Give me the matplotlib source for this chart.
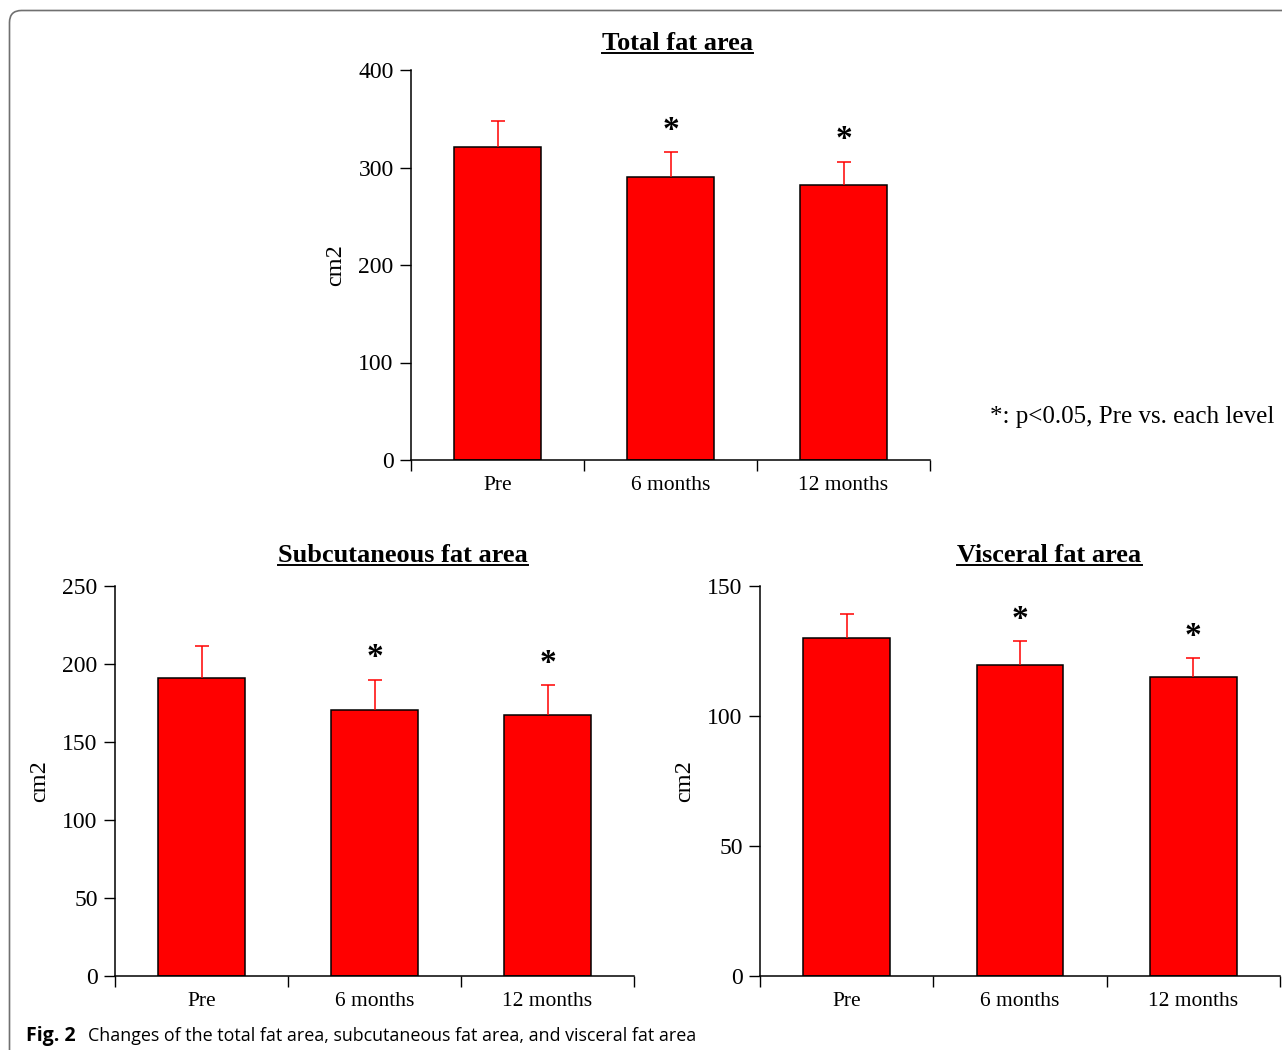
import numpy as np
import matplotlib
matplotlib.use("Agg")
import matplotlib.pyplot as plt
from matplotlib.patches import FancyBboxPatch
from matplotlib.lines import Line2D
from matplotlib.transforms import IdentityTransform

# ---- data ----
categories = ["Pre", "6 months", "12 months"]
significant = [False, True, True]

total_mean = [321, 290, 282]
total_err = [27, 26, 24]

subcut_mean = [191, 170.5, 167]
subcut_err = [20.5, 19.5, 19.5]

visceral_mean = [130, 119.5, 115]
visceral_err = [9.2, 9.4, 7.4]

total_ticks = [0, 100, 200, 300, 400]
subcut_ticks = [0, 50, 100, 150, 200, 250]
visceral_ticks = [0, 50, 100, 150]

titles = ["Total fat area", "Subcutaneous fat area", "Visceral fat area"]
ylabel = "cm2"
note = "*: p<0.05, Pre vs. each level"
caption_bold = "Fig. 2"
caption_text = "Changes of the total fat area, subcutaneous fat area, and visceral fat area"

W, H = 1282, 1050
DPI = 100
SERIF = ["Liberation Serif", "DejaVu Serif"]
SANS = ["Open Sans", "DejaVu Sans"]

fig = plt.figure(figsize=(W / DPI, H / DPI), dpi=DPI)
fig.patch.set_facecolor("white")


def px_rect(x0, y0, x1, y1):
    return [x0 / W, 1 - y1 / H, (x1 - x0) / W, (y1 - y0) / H]


def draw_panel(rect, means, errs, ticks):
    ax = fig.add_axes(rect)
    x = np.arange(len(categories)) + 0.5
    means = np.asarray(means, float)
    errs = np.asarray(errs, float)
    ax.bar(x, means, width=0.5, color="#ff0000", edgecolor="black",
           linewidth=1.1, zorder=2)
    ax.vlines(x, means, means + errs, color="#ff0000", linewidth=1.1, zorder=3)
    ax.plot(x, means + errs, linestyle="none", marker="_", markersize=10,
            markeredgewidth=1.1, color="#ff0000", zorder=3)
    for xi, top, sig in zip(x, means + errs, significant):
        if sig:
            ax.annotate("*", (xi, top), xytext=(0, 4.5), textcoords="offset points",
                        ha="center", va="bottom", fontsize=24, fontweight="bold",
                        family=SERIF)
    ax.set_xlim(0, len(categories))
    ax.set_ylim(ticks[0], ticks[-1])
    ax.set_yticks(ticks)
    ax.set_yticklabels([str(t) for t in ticks], family=SERIF, fontsize=17)
    ax.set_xticks(np.arange(len(categories) + 1))
    ax.set_xticklabels([])
    ax.set_xticks(x, minor=True)
    ax.set_xticklabels(categories, minor=True, family=SERIF, fontsize=15.5)
    ax.tick_params(axis="x", which="major", direction="out", length=8, width=1)
    ax.tick_params(axis="x", which="minor", length=0, pad=11.5)
    ax.tick_params(axis="y", direction="out", length=8, width=1, pad=4.5)
    for s in ["top", "right"]:
        ax.spines[s].set_visible(False)
    for s in ["left", "bottom"]:
        ax.spines[s].set_linewidth(1.1)
    ax.set_ylabel(ylabel, family=SERIF, fontsize=17.5, va="center")
    ax.yaxis.set_label_coords(-75 / (rect[2] * W), 0.5)
    return ax


ax1 = draw_panel(px_rect(411, 70, 930, 460), total_mean, total_err, total_ticks)
ax2 = draw_panel(px_rect(115, 586, 634, 976), subcut_mean, subcut_err, subcut_ticks)
ax3 = draw_panel(px_rect(760, 586, 1280, 976), visceral_mean, visceral_err, visceral_ticks)

# titles with underline
title_pos = [(677.5, 49.5), (403, 561.5), (1049.5, 561.5)]
title_artists = []
for t, (cx, by) in zip(titles, title_pos):
    ta = fig.text(cx / W, 1 - by / H, t, ha="center", va="baseline",
                  family=SERIF, fontsize=18.9, fontweight="bold")
    title_artists.append((ta, by))

fig.text(990 / W, 1 - 423 / H, note, ha="left", va="baseline",
         family=SERIF, fontsize=18)

# caption
fig.text(26 / W, 1 - 1041 / H, caption_bold, ha="left", va="baseline",
         family=SANS, fontsize=14, fontweight="bold")
fig.text(88 / W, 1 - 1041 / H, caption_text, ha="left", va="baseline",
         family=SANS, fontsize=12.9)

# frame (rounded corner, top-left)
frame = FancyBboxPatch((9.5, -60), 1400, (H - 10.5) + 60,
                       boxstyle="round,pad=0,rounding_size=12",
                       transform=IdentityTransform(), fill=False,
                       edgecolor="#707070", linewidth=1.2)
fig.patches.append(frame)

fig.canvas.draw()
renderer = fig.canvas.get_renderer()
for ta, by in title_artists:
    bb = ta.get_window_extent(renderer)
    yline = H - (by + 3)
    fig.lines.append(Line2D([bb.x0, bb.x1], [yline, yline], color="black",
                            linewidth=1.4, transform=IdentityTransform()))

fig.savefig("out.png", dpi=DPI, facecolor="white")
